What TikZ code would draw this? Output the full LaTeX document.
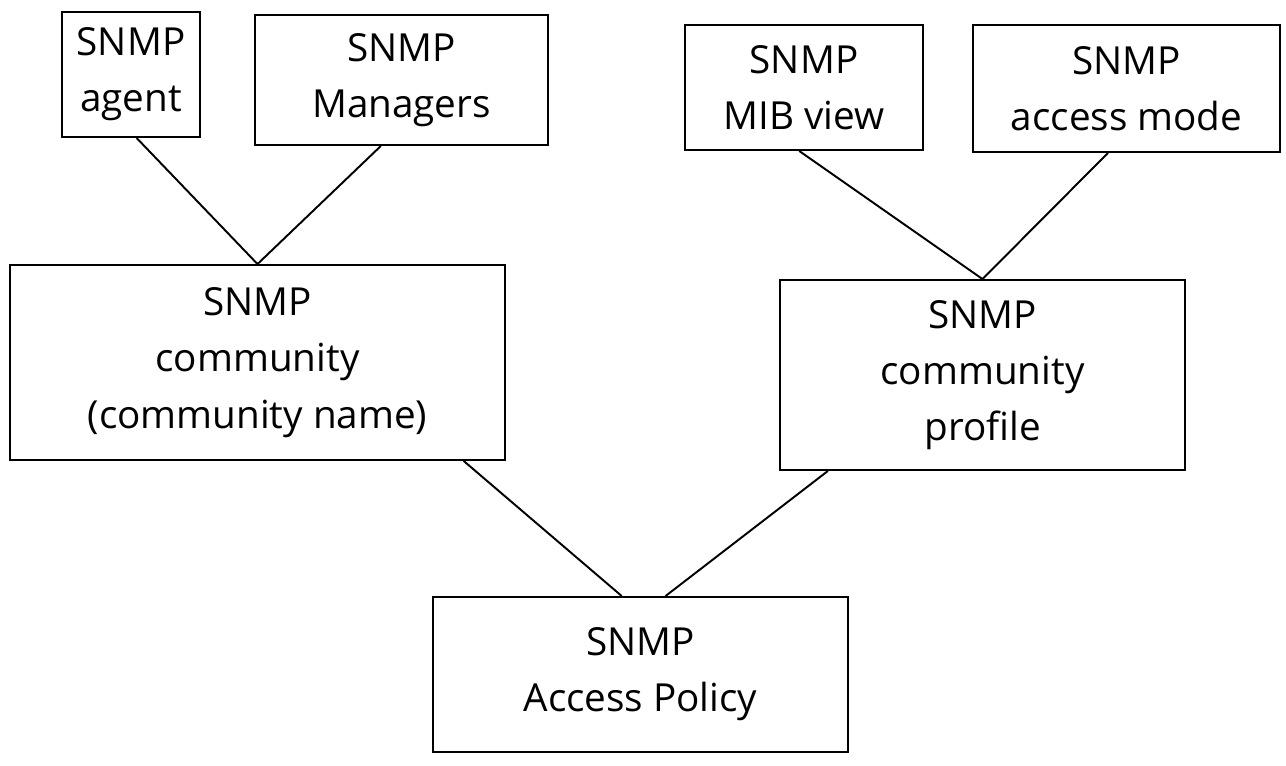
\documentclass[tikz,border=0pt]{standalone}
\usepackage{fontspec}
\setmainfont{Open Sans}
\usepackage{tikz}
\usetikzlibrary{positioning,calc}

\begin{document}
\begin{tikzpicture}[
	x=0.02cm, y=-0.02cm,
	entity/.style={
		draw,
		line width=1.1pt,
		align=center,
		inner sep=2pt,
		font=\fontsize{22}{32}\selectfont
	},
	link/.style={line width=1.1pt}
	]
	\useasboundingbox (0,0) rectangle (1286,765);
	
	% top row
	\node[entity, minimum width=2.76cm, minimum height=2.5cm] (agent) at (131,74.5) {SNMP\\agent};
	\node[entity, minimum width=5.86cm, minimum height=2.6cm] (managers) at (401.5,80) {SNMP\\Managers};
	\node[entity, minimum width=4.76cm, minimum height=2.5cm] (mibview) at (804,87.5) {SNMP\\MIB view};
	\node[entity, minimum width=6.14cm, minimum height=2.54cm] (accessmode) at (1126.5,88.5) {SNMP\\access mode};
	
	% middle row
	\node[entity, minimum width=9.9cm, minimum height=3.9cm] (community) at (257.5,362.5) {SNMP\\community\\(community name)};
	\node[entity, minimum width=8.1cm, minimum height=3.8cm] (profile) at (982.5,375) {SNMP\\community\\profile};
	
	% bottom
	\node[entity, minimum width=8.3cm, minimum height=3.1cm] (policy) at (640.5,674.5) {SNMP\\Access Policy};
	
	% connectors
	\draw[link] ($(agent.south west)!0.54!(agent.south east)$) -- (community.north);
	\draw[link] ($(managers.south west)!0.43!(managers.south east)$) -- (community.north);
	\draw[link] ($(mibview.south west)!0.48!(mibview.south east)$) -- (profile.north);
	\draw[link] ($(accessmode.south west)!0.44!(accessmode.south east)$) -- (profile.north);
	\draw[link] ($(community.south west)!0.915!(community.south east)$) -- ($(policy.north west)!0.455!(policy.north east)$);
	\draw[link] ($(profile.south west)!0.12!(profile.south east)$) -- ($(policy.north west)!0.56!(policy.north east)$);
\end{tikzpicture}
\end{document}
